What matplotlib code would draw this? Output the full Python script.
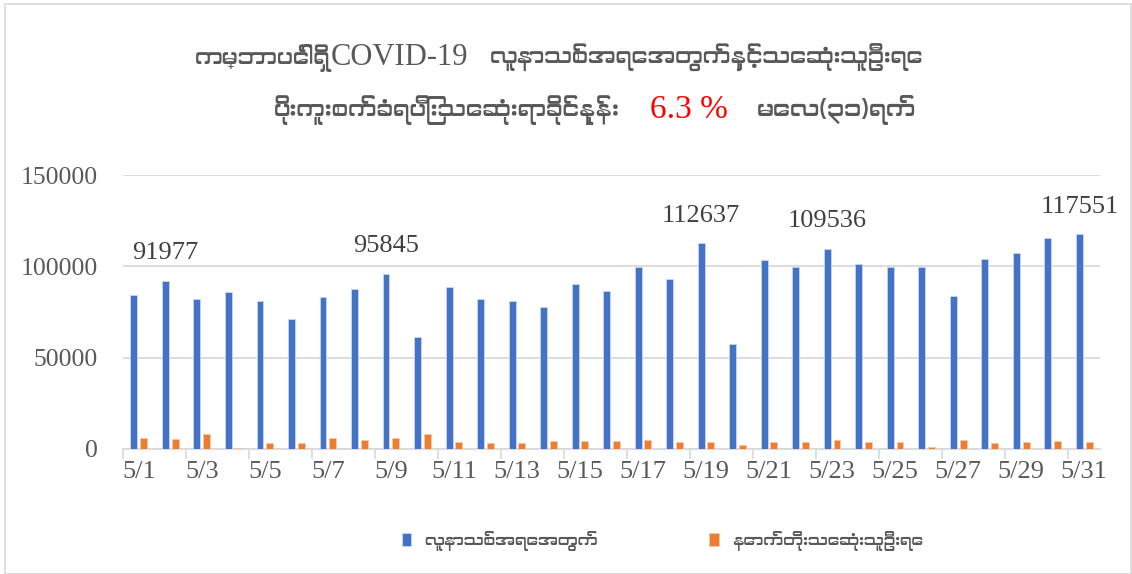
import matplotlib
matplotlib.use("Agg")
import matplotlib.pyplot as plt
from matplotlib import font_manager
from matplotlib.patches import Rectangle
import numpy as np

# ---------------- data ----------------
dates = [f"5/{d}" for d in range(1, 32)]
new_cases = [84200, 91977, 82250, 85700, 81150, 70900, 82960, 87500, 95845, 61060,
             88440, 82250, 81150, 77650, 90250, 86400, 99770, 93200, 112637, 57220,
             103600, 99770, 109536, 101030, 99770, 99390, 83890, 103940, 107440, 115440,
             117551]
new_deaths = [6020, 5300, 8030, 730, 3290, 3470, 6020, 4930, 6020, 8030,
              3830, 3470, 3470, 4200, 4560, 4200, 4930, 3830, 3830, 2190,
              3830, 3830, 4930, 3830, 3830, 1280, 4930, 3470, 3830, 4560,
              3830]
labeled_days = ["5/2", "5/9", "5/19", "5/23", "5/31"]
yticks = [0, 50000, 100000, 150000]
series_names = ["လူနာသစ်အရေအတွက်", "နောက်တိုးသေဆုံးသူဦးရေ"]
title_line1_a = "ကမ္ဘာပေါ်ရှိ"
title_line1_b = "COVID-19"
title_line1_c = "လူနာသစ်အရေအတွက်နှင့်သေဆုံးသူဦးရေ"
title_line2_left = "ပိုးကူးစက်ခံရပြီးသေဆုံးရာခိုင်နှုန်း"
title_rate = "6.3 %"
title_line2_right = "မေလ(၃၁)ရက်"

# ---------------- fonts ----------------
mm_fonts = []
for f in font_manager.fontManager.ttflist:
    n = f.name
    if any(k in n for k in ("Myanmar", "Padauk", "Pyidaungsu", "Zawgyi")):
        if n not in mm_fonts:
            mm_fonts.append(n)
serif_fam = ["Liberation Serif"] + mm_fonts + ["DejaVu Serif", "DejaVu Sans"]
mm_fam = mm_fonts + ["Liberation Serif", "DejaVu Sans"]
plt.rcParams["font.family"] = serif_fam

gray = "#595959"
blue = "#4472C4"
orange = "#ED7D31"

fig = plt.figure(figsize=(11.32, 5.74), dpi=100)
ax = fig.add_axes([0.1087, 0.2178, 0.8630, 0.4773])

x = np.arange(len(dates))
w = 0.22
off = 0.155
b1 = ax.bar(x - off, new_cases, width=w, color=blue, edgecolor="#C9D6EE", linewidth=0.6,
            label=series_names[0], zorder=3)
b2 = ax.bar(x + off, new_deaths, width=w, color=orange, edgecolor="#F6C8A8", linewidth=0.6,
            label=series_names[1], zorder=3)

for d in labeled_days:
    i = dates.index(d)
    ax.annotate(f"{new_cases[i]}", xy=(x[i] - off, new_cases[i]), xytext=(0, 12),
                textcoords="offset points", ha="center", va="bottom",
                fontsize=19, color="#404040", family=serif_fam, annotation_clip=False)

ax.set_xlim(-0.5, len(dates) - 0.5)
ax.set_ylim(0, 150000)
ax.set_yticks(yticks)
ax.set_yticklabels([str(v) for v in yticks], fontsize=18.5, color=gray)
ax.tick_params(axis="y", length=0, pad=18)
ax.yaxis.grid(True, color="#D9D9D9", linewidth=1.3, zorder=0)
ax.set_axisbelow(True)

ax.set_xticks(x[::2])
ax.set_xticklabels(dates[::2], fontsize=19, color=gray)
ax.set_xticks(np.arange(-0.5, len(dates), 2), minor=True)
ax.tick_params(axis="x", which="major", length=0, pad=9)
ax.tick_params(axis="x", which="minor", length=7, width=1.2, color="#D9D9D9")

for s in ["top", "right", "left"]:
    ax.spines[s].set_visible(False)
ax.spines["bottom"].set_color("#D9D9D9")
ax.spines["bottom"].set_linewidth(1.3)

# titles
y1, y2 = 0.899, 0.808
fig.text(330 / 1132, y1, title_line1_a, ha="right", va="center", fontsize=16,
         color=gray, family=mm_fam)
fig.text(400 / 1132, y1, title_line1_b, ha="center", va="center", fontsize=22,
         color=gray, family=serif_fam)
fig.text(490 / 1132, y1, title_line1_c, ha="left", va="center", fontsize=16,
         color=gray, family=mm_fam)
fig.text(620 / 1132, y2, title_line2_left, ha="right", va="center", fontsize=16.5,
         color=gray, family=mm_fam)
fig.text(689 / 1132, y2, title_rate, ha="center", va="center", fontsize=24,
         color="#FF0000", family=serif_fam)
fig.text(757 / 1132, y2, title_line2_right, ha="left", va="center", fontsize=17,
         color=gray, family=mm_fam)

leg = fig.legend(handles=[b1, b2], labels=series_names, loc="center",
                 bbox_to_anchor=(0.585, 0.0575), ncol=2, frameon=False,
                 handlelength=0.6, handleheight=0.9, handletextpad=0.8,
                 columnspacing=7, prop={"family": mm_fam, "size": 11.5})
for t in leg.get_texts():
    t.set_color(gray)

# chart border
fig.patches.append(Rectangle((0.004, 0.0), 0.995, 0.993, transform=fig.transFigure,
                             fill=False, edgecolor="#D9D9D9", linewidth=1.2))

fig.savefig("out.png", dpi=100)
